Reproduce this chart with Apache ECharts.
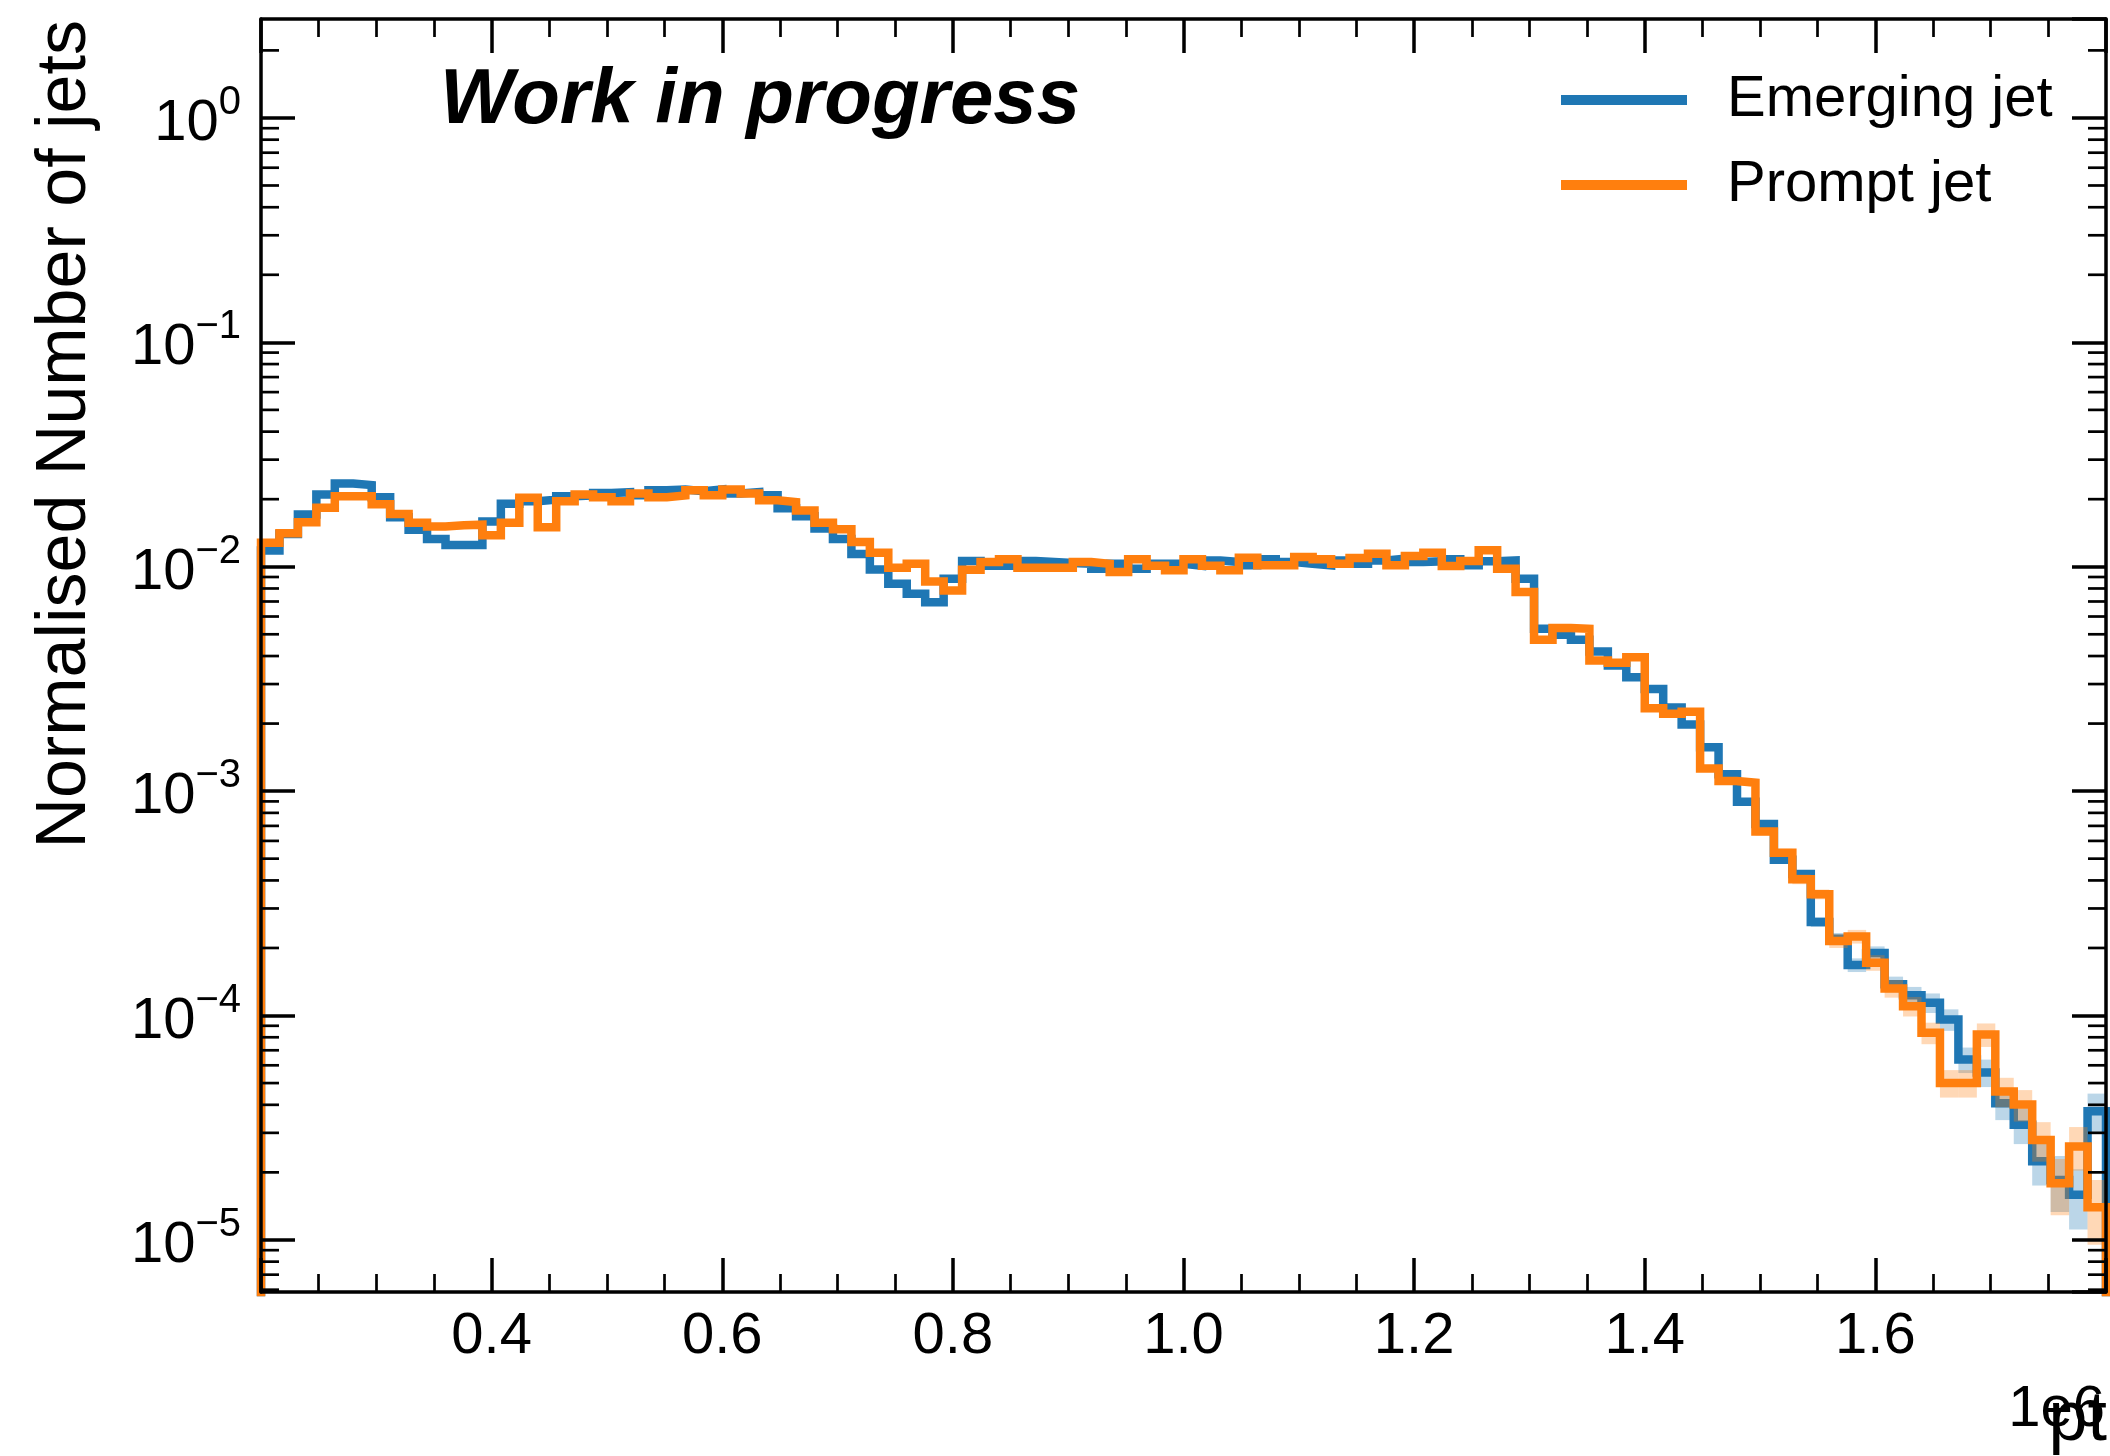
<!DOCTYPE html>
<html><head><meta charset="utf-8">
<script src="https://cdn.jsdelivr.net/npm/echarts@6/dist/echarts.min.js"></script>
<style>html,body{margin:0;padding:0;background:#fff}#c{width:2110px;height:1456px}</style>
</head><body><div id="c"></div>
<script>
// ---- data ----
const binMin = 200000, binMax = 1800000, nBins = 100;
const seriesNames = ['Emerging jet', 'Prompt jet'];
const emerging = [
 0.0118,0.0140,0.0171,0.0210,0.0235,0.0231,0.0204,0.0166,0.0146,0.0133,
 0.0125,0.0125,0.0159,0.0191,0.0196,0.0199,0.0206,0.0208,0.0213,0.0215,
 0.0208,0.0219,0.0221,0.0217,0.0221,0.0212,0.0215,0.0208,0.0182,0.0168,
 0.0148,0.0133,0.0114,0.00973,0.0084,0.00757,0.00695,0.00884,0.0106,0.0101,
 0.0101,0.0106,0.0105,0.0104,0.0103,0.0098,0.0103,0.0098,0.0103,0.0103,
 0.0101,0.01067,0.0105,0.01014,0.01079,0.0105,0.01031,0.01014,0.01067,0.01031,
 0.01067,0.01086,0.0105,0.01057,0.01079,0.01014,0.01057,0.01067,0.00884,0.00529,
 0.00497,0.00473,0.00419,0.00363,0.00322,0.00285,0.00236,0.00198,0.00157,0.00119,
 0.000896,0.000713,0.000494,0.000427,0.000261,0.00022,0.000168,0.00019,0.000138,0.000123,
 0.000114,0.000096,0.0000637,0.0000558,0.0000407,0.0000326,0.0000224,0.0000185,0.0000159,0.0000374];
const prompt = [
 0.0128,0.0141,0.0158,0.0183,0.0206,0.0206,0.0190,0.0172,0.0157,0.0151,
 0.0153,0.0154,0.0138,0.0157,0.0203,0.0150,0.0196,0.0210,0.0204,0.0196,
 0.0212,0.0204,0.0208,0.0219,0.0208,0.0221,0.0212,0.0198,0.0194,0.0178,
 0.0157,0.0147,0.0129,0.01155,0.0099,0.0103,0.00859,0.00784,0.0097,0.0105,
 0.0108,0.0099,0.0099,0.0099,0.0105,0.0103,0.00947,0.0108,0.0101,0.00964,
 0.0108,0.0101,0.00964,0.01097,0.01014,0.01014,0.01105,0.01079,0.01031,0.01094,
 0.01143,0.01014,0.01116,0.01155,0.01007,0.0106,0.01183,0.0098,0.00771,0.00473,
 0.00533,0.00529,0.00382,0.00373,0.00395,0.00234,0.00221,0.00226,0.00126,0.00111,
 0.00109,0.000661,0.000532,0.000405,0.000347,0.000215,0.000225,0.000172,0.000132,0.00011,
 0.0000837,0.0000501,0.0000501,0.0000823,0.0000459,0.0000401,0.0000279,0.0000179,0.0000261,0.000014];
// relative uncertainty bands (visible in the tail), starting at bin errTailStart
const errTailStart = 80;
const emergingRelErrTail = [0.03,0.03,0.04,0.04,0.05,0.06,0.07,0.07,0.08,0.09,0.10,0.11,0.13,0.14,0.16,0.18,0.22,0.28,0.30,0.20];
const promptRelErrTail   = [0.03,0.04,0.04,0.05,0.05,0.07,0.07,0.08,0.09,0.10,0.11,0.14,0.14,0.12,0.15,0.16,0.20,0.28,0.22,0.32];
const yMin = 5.86e-6, yMax = 2.76;
const xTickStep = 200000;
const yLabelText = 'Normalised Number of jets';
const xLabelText = 'pt';
const xOffsetText = '1e6';
const watermark = 'Work in progress';

// ---- build ----
const FONT = '"Liberation Sans", Arial, Helvetica, sans-serif';
const BLUE = '#1f77b4', ORANGE = '#ff7f0e';
const LW = 8.5;
const binEdges = [];
for (let i = 0; i <= nBins; i++) binEdges.push(binMin + i * (binMax - binMin) / nBins);
const FLOOR = 1e-9;
function stepPoints(vals) {
  const pts = [[binEdges[0], FLOOR]];
  vals.forEach((v, i) => { pts.push([binEdges[i], v]); pts.push([binEdges[i + 1], v]); });
  pts.push([binEdges[nBins], FLOOR]);
  return pts;
}
function bandData(vals, rel) {
  return rel.map((r, j) => { const i = errTailStart + j; const v = vals[i];
    return [binEdges[i], binEdges[i + 1], v * (1 - r), v * (1 + r)]; });
}
function bandRender(color) {
  return function (params, api) {
    const p0 = api.coord([api.value(0), api.value(3)]);
    const p1 = api.coord([api.value(1), api.value(2)]);
    return { type: 'rect', shape: { x: p0[0], y: p0[1], width: p1[0] - p0[0], height: p1[1] - p0[1] },
      style: { fill: color } };
  };
}
const yMinorTicks = [];
for (let n = -6; n <= 0; n++) for (let k = 2; k <= 9; k++) {
  const v = k * Math.pow(10, n); if (v > yMin && v < yMax) yMinorTicks.push([binMin, v]);
}
function yFmt(value) {
  const e = Math.round(Math.log10(value));
  const es = String(e).replace('-', '\u2212');
  return '{b|10}{s|' + es + '}';
}
const axisCommon = {
  z: 10,
  axisLine: { show: true, onZero: false, lineStyle: { color: '#000', width: 3.5 } },
  splitLine: { show: false },
};
const chart = echarts.init(document.getElementById('c'), null, { renderer: 'canvas' });
chart.setOption({
  animation: false,
  backgroundColor: '#fff',
  grid: { left: 261, right: 4, top: 19, bottom: 164, containLabel: false, outerBoundsMode: 'none' },
  xAxis: [
    Object.assign({}, axisCommon, { type: 'value', position: 'bottom', min: binMin, max: binMax, interval: xTickStep,
      axisTick: { inside: true, length: 34, lineStyle: { color: '#000', width: 3.5 } },
      minorTick: { show: true, splitNumber: 4, length: 18, lineStyle: { color: '#000', width: 2.7 } },
      minorSplitLine: { show: false },
      axisLabel: { show: true, margin: 16, fontSize: 58, lineHeight: 58, color: '#000', fontFamily: FONT,
        showMinLabel: false, showMaxLabel: false, formatter: v => (v / 1e6).toFixed(1) } }),
    Object.assign({}, axisCommon, { type: 'value', position: 'top', min: binMin, max: binMax, interval: xTickStep,
      axisTick: { inside: true, length: 34, lineStyle: { color: '#000', width: 3.5 } },
      minorTick: { show: true, splitNumber: 4, length: 18, lineStyle: { color: '#000', width: 2.7 } },
      axisLabel: { show: false } })
  ],
  yAxis: [
    Object.assign({}, axisCommon, { type: 'log', logBase: 10, position: 'left', min: yMin, max: yMax,
      axisTick: { inside: true, length: 34, lineStyle: { color: '#000', width: 3.5 } },
      minorTick: { show: false },
      axisLabel: { show: true, margin: 20, color: '#000', fontFamily: FONT,
        showMinLabel: false, showMaxLabel: false, formatter: yFmt,
        rich: {
          b: { fontSize: 58, lineHeight: 70, verticalAlign: 'bottom', fontFamily: FONT, color: '#000' },
          s: { fontSize: 40, lineHeight: 40, verticalAlign: 'top', fontFamily: FONT, color: '#000' }
        } } }),
    Object.assign({}, axisCommon, { type: 'log', logBase: 10, position: 'right', min: yMin, max: yMax,
      axisTick: { inside: true, length: 34, lineStyle: { color: '#000', width: 3.5 } },
      minorTick: { show: false }, axisLabel: { show: false } })
  ],
  legend: {
    orient: 'vertical', left: 1556, top: 60, itemWidth: 126, itemHeight: 10, itemGap: 15, icon: 'rect',
    selectedMode: false, data: seriesNames,
    textStyle: { fontSize: 58, lineHeight: 70, color: '#000', fontFamily: FONT, padding: [0, 0, 0, 35] }
  },
  series: [
    { name: 'Emerging band', type: 'custom', xAxisIndex: 0, yAxisIndex: 0, z: 1, silent: true, clip: true,
      encode: { x: [0, 1], y: [2, 3] }, data: bandData(emerging, emergingRelErrTail),
      renderItem: bandRender('rgba(31,119,180,0.3)') },
    { name: seriesNames[0], type: 'line', xAxisIndex: 0, yAxisIndex: 0, z: 2, clip: true, silent: true,
      showSymbol: false, symbol: 'none', color: BLUE, itemStyle: { color: BLUE },
      lineStyle: { color: BLUE, width: LW, join: 'miter', cap: 'butt' }, data: stepPoints(emerging) },
    { name: 'Prompt band', type: 'custom', xAxisIndex: 0, yAxisIndex: 0, z: 3, silent: true, clip: true,
      encode: { x: [0, 1], y: [2, 3] }, data: bandData(prompt, promptRelErrTail),
      renderItem: bandRender('rgba(255,127,14,0.3)') },
    { name: seriesNames[1], type: 'line', xAxisIndex: 0, yAxisIndex: 0, z: 4, clip: true, silent: true,
      showSymbol: false, symbol: 'none', color: ORANGE, itemStyle: { color: ORANGE },
      lineStyle: { color: ORANGE, width: LW, join: 'miter', cap: 'butt' }, data: stepPoints(prompt) },
    { name: 'yMinorTicks', type: 'custom', xAxisIndex: 0, yAxisIndex: 0, z: 20, silent: true, clip: false,
      encode: { x: 0, y: 1 }, data: yMinorTicks,
      renderItem: function (params, api) {
        const v = api.value(1);
        const pl = api.coord([binMin, v]);
        const pr = api.coord([binMax, v]);
        return { type: 'group', children: [
          { type: 'line', shape: { x1: pl[0], y1: pl[1], x2: pl[0] + 18, y2: pl[1] }, style: { stroke: '#000', lineWidth: 2.7 } },
          { type: 'line', shape: { x1: pr[0] - 18, y1: pr[1], x2: pr[0], y2: pr[1] }, style: { stroke: '#000', lineWidth: 2.7 } }
        ] };
      } }
  ],
  graphic: [
    { type: 'text', x: 440, y: 101, style: { text: watermark, fontSize: 78, fontWeight: 'bold', fontStyle: 'italic',
      fontFamily: FONT, fill: '#000', verticalAlign: 'middle', align: 'left' } },
    { type: 'text', x: 66, y: 20, rotation: Math.PI / 2, style: { text: yLabelText, fontSize: 70, fontFamily: FONT,
      fill: '#000', align: 'right', verticalAlign: 'middle' } },
    { type: 'text', x: 2105, y: 1410, style: { text: xOffsetText, fontSize: 58, fontFamily: FONT, fill: '#000',
      align: 'right', verticalAlign: 'middle' } },
    { type: 'text', x: 2107, y: 1421, style: { text: xLabelText, fontSize: 70, fontFamily: FONT, fill: '#000',
      align: 'right', verticalAlign: 'middle' } }
  ]
});
</script></body></html>
